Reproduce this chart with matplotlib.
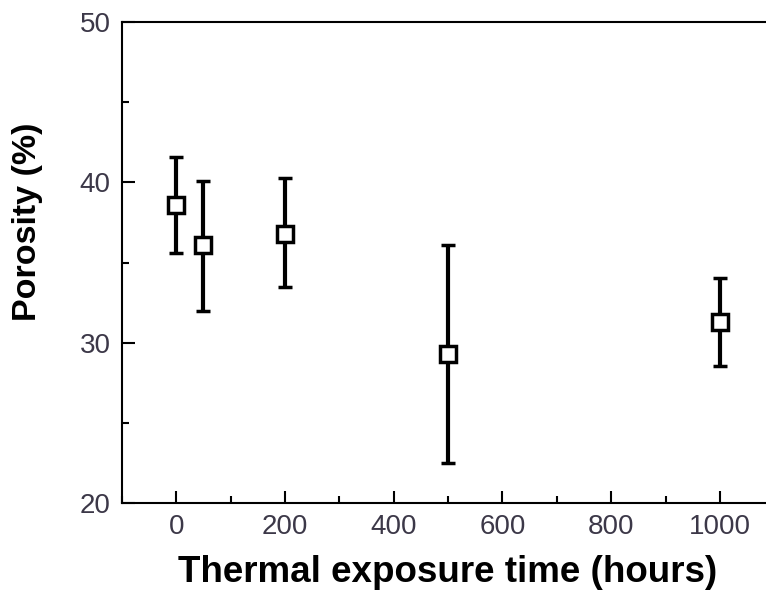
import numpy as np
import matplotlib
matplotlib.use('Agg')
import matplotlib.pyplot as plt
from matplotlib.ticker import MultipleLocator

# data
time_h = [0, 50, 200, 500, 1000]
porosity = [38.6, 36.1, 36.8, 29.3, 31.3]
err_low = [3.0, 4.1, 3.3, 6.8, 2.75]
err_high = [3.0, 4.0, 3.5, 6.8, 2.75]

plt.rcParams['font.family'] = ['Liberation Sans', 'DejaVu Sans']

fig = plt.figure(figsize=(7.66, 5.95), dpi=100)
ax = fig.add_axes([0.159, 0.1546, 0.852, 0.8084])

ax.errorbar(time_h, porosity, yerr=[err_low, err_high], fmt='s', ms=11,
            mfc='white', mec='black', mew=2.5, ecolor='black', elinewidth=3,
            capsize=5, capthick=3, zorder=3)

ax.set_xlim(-100, 1100)
ax.set_ylim(20, 50)
ax.xaxis.set_major_locator(MultipleLocator(200))
ax.xaxis.set_minor_locator(MultipleLocator(100))
ax.yaxis.set_major_locator(MultipleLocator(10))
ax.yaxis.set_minor_locator(MultipleLocator(5))
ax.tick_params(which='both', direction='in', top=False, right=False,
               width=1.5, labelsize=20, labelcolor='#3c3848', pad=8)
ax.tick_params(which='major', length=9)
ax.tick_params(which='minor', length=5)
for s in ax.spines.values():
    s.set_linewidth(1.5)

ax.set_xlabel('Thermal exposure time (hours)', fontsize=26.5, fontweight='bold')
ax.set_ylabel('Porosity (%)', fontsize=24.5, fontweight='bold')
# label positions in axes coords
ax.xaxis.set_label_coords(0.5, -0.108)
ax.yaxis.set_label_coords(-0.12, 0.584)

fig.savefig('out.png', dpi=100)
